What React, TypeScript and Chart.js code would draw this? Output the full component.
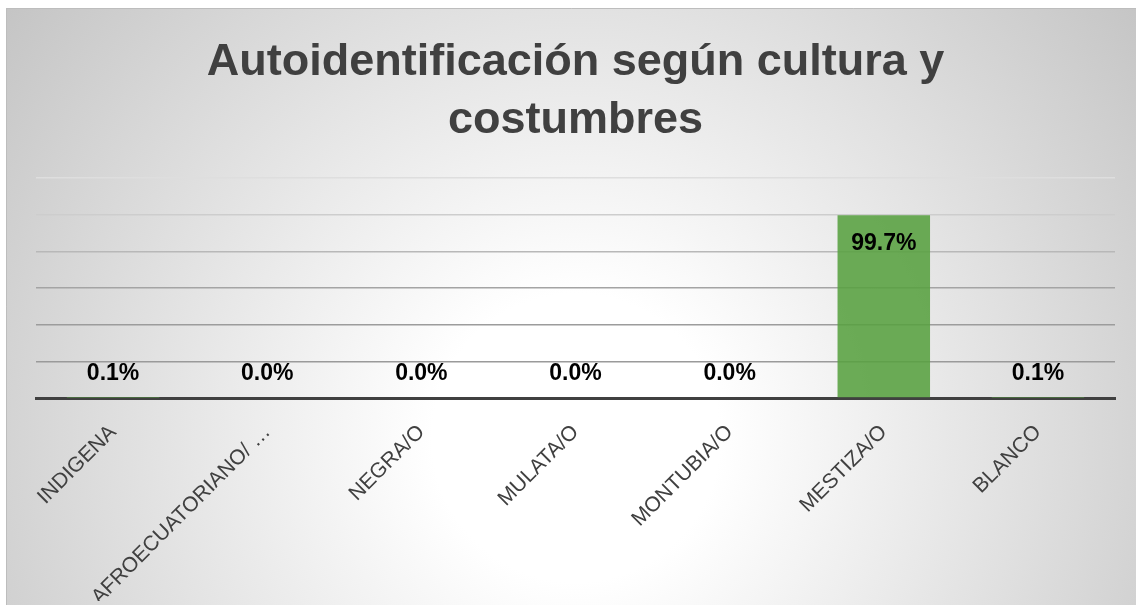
import React, { useEffect, useRef } from "react";
import { Chart, registerables } from "chart.js";

Chart.register(...registerables);

const titleLines = ["Autoidentificación según cultura y", "costumbres"];
const categories = [
  "INDIGENA",
  "AFROECUATORIANO/ …",
  "NEGRA/O",
  "MULATA/O",
  "MONTUBIA/O",
  "MESTIZA/O",
  "BLANCO",
];
const values = [0.1, 0.0, 0.0, 0.0, 0.0, 99.7, 0.1];
const yMin = 0;
const yMax = 120;
const yStep = 20;

const gridColors: Record<number, string> = {
  120: "#dedede",
  100: "#cdcdcd",
  80: "#b8b8b8",
  60: "#a4a4a4",
  40: "#9c9c9c",
  20: "#9a9a9a",
  0: "#9a9a9a",
};

const bgPlugin = {
  id: "bgPlugin",
  beforeDraw(chart: any) {
    const { ctx, width, height } = chart;
    ctx.save();
    const g = ctx.createRadialGradient(570, 430, 0, 570, 430, 720);
    g.addColorStop(0, "#ffffff");
    g.addColorStop(0.2, "#ffffff");
    g.addColorStop(1, "#c4c4c4");
    ctx.fillStyle = g;
    ctx.fillRect(0, 0, width, height);
    ctx.strokeStyle = "#bdbdbd";
    ctx.lineWidth = 1;
    ctx.beginPath();
    ctx.moveTo(0.5, height);
    ctx.lineTo(0.5, 0.5);
    ctx.lineTo(width, 0.5);
    ctx.stroke();
    ctx.restore();
  },
};

const labelPlugin = {
  id: "labelPlugin",
  afterDatasetsDraw(chart: any) {
    const { ctx } = chart;
    const meta = chart.getDatasetMeta(0);
    const base = chart.scales.y.getPixelForValue(0);
    ctx.save();
    ctx.font = "bold 23px 'Liberation Sans', Arial, sans-serif";
    ctx.fillStyle = "#000000";
    ctx.textAlign = "center";
    ctx.textBaseline = "middle";
    meta.data.forEach((bar: any, i: number) => {
      const v = values[i];
      const text = v.toFixed(1) + "%";
      const y = v > 50 ? bar.y + 28 : base - 24;
      ctx.fillText(text, bar.x, y);
    });
    ctx.restore();
  },
};

export default function App() {
  const ref = useRef<HTMLCanvasElement | null>(null);
  useEffect(() => {
    if (!ref.current) return;
    const chart = new Chart(ref.current, {
      type: "bar",
      data: {
        labels: categories,
        datasets: [
          {
            data: values,
            backgroundColor: "rgba(88,160,64,0.88)",
            borderWidth: 0,
            barPercentage: 0.6,
            categoryPercentage: 1,
          },
        ],
      },
      options: {
        animation: false,
        responsive: true,
        maintainAspectRatio: false,
        layout: { padding: { left: 30, right: 21, top: 0, bottom: 4 } },
        plugins: {
          legend: { display: false },
          tooltip: { enabled: false },
          title: {
            display: true,
            text: titleLines,
            color: "#404040",
            font: { family: "'Liberation Sans', Arial, sans-serif", size: 45, weight: "bold", lineHeight: 1.29 },
            padding: { top: 26, bottom: 28 },
          },
        },
        scales: {
          x: {
            grid: { display: false },
            border: { display: true, color: "#404040", width: 3 },
            ticks: {
              color: "#404040",
              font: { family: "'Liberation Sans', Arial, sans-serif", size: 21 },
              minRotation: 45,
              maxRotation: 45,
              padding: 14,
              autoSkip: false,
            },
            afterFit(scale: any) {
              scale.height = 203;
            },
          },
          y: {
            min: yMin,
            max: yMax,
            ticks: { display: false, stepSize: yStep },
            border: { display: false },
            grid: {
              drawTicks: false,
              lineWidth: 1.5,
              color: (c: any) => gridColors[c.tick?.value] ?? "#a0a0a0",
            },
            afterFit(scale: any) {
              scale.width = 0;
            },
          },
        },
      },
      plugins: [bgPlugin, labelPlugin],
    });
    return () => chart.destroy();
  }, []);
  return (
    <div style={{ position: "fixed", left: 6, top: 8, width: 1130, height: 597 }}>
      <canvas ref={ref} />
    </div>
  );
}
